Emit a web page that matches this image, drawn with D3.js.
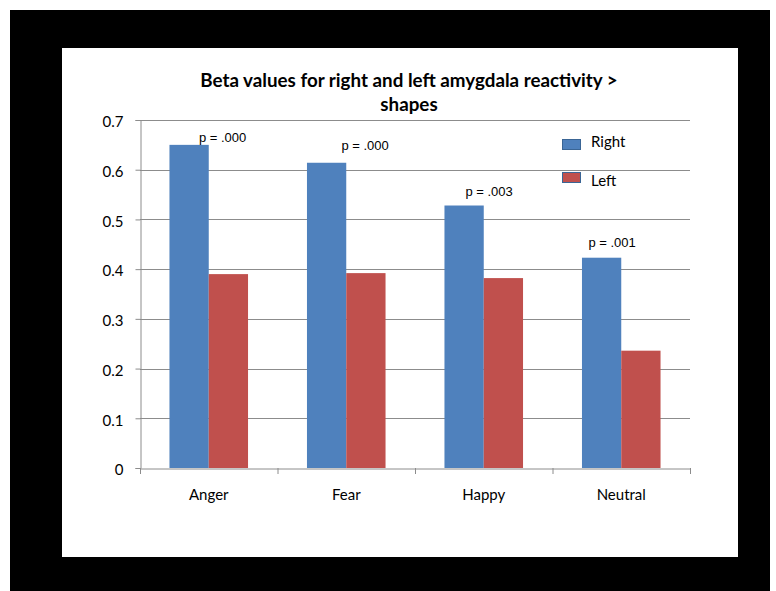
<!DOCTYPE html>
<html>
<head>
<meta charset="utf-8">
<script src="https://cdn.jsdelivr.net/npm/d3@7"></script>
<style>
  html, body { margin: 0; padding: 0; background: #fff; }
  svg { display: block; }
</style>
</head>
<body>
<script>
// Amygdala reactivity data
const categories = ["Anger", "Fear", "Happy", "Neutral"];
const seriesNames = ["Right", "Left"];
const rightValues = [0.65, 0.614, 0.528, 0.423];
const leftValues = [0.39, 0.392, 0.382, 0.236];
const pLabels = ["p = .000", "p = .000", "p = .003", "p = .001"];
const yTicks = [0, 0.1, 0.2, 0.3, 0.4, 0.5, 0.6, 0.7];
const colors = ["#4f81bd", "#c0504d"];

const W = 776, H = 591;
const svg = d3.select("body").append("svg").attr("width", W).attr("height", H);

// frame
svg.append("rect").attr("x", 10).attr("y", 10).attr("width", 760).attr("height", 581).attr("fill", "#000");
svg.append("rect").attr("x", 62).attr("y", 48).attr("width", 676).attr("height", 509).attr("fill", "#fff");

const font = "Lato, 'Open Sans', sans-serif";
const plot = { left: 140, right: 690, top: 120, bottom: 468 };

const x = d3.scaleBand().domain(categories).range([plot.left, plot.right]).paddingInner(0).paddingOuter(0);
const y = d3.scaleLinear().domain([0, 0.7]).range([plot.bottom, plot.top]);
// gap width 150% => each bar = band / 3.5
const barW = x.bandwidth() / 3.5;
const xs = d3.scaleBand().domain(seriesNames).range([0.75 * barW, 2.75 * barW]).padding(0);

// gridlines
svg.append("g").selectAll("line").data(yTicks.filter(d => d > 0)).join("line")
  .attr("x1", plot.left).attr("x2", plot.right)
  .attr("y1", d => Math.round(y(d)) + 0.5).attr("y2", d => Math.round(y(d)) + 0.5)
  .attr("stroke", "#8c8c8c").attr("stroke-width", 1);

// bars
const data = categories.map((c, i) => ({ cat: c, vals: [rightValues[i], leftValues[i]] }));
const groups = svg.append("g").selectAll("g").data(data).join("g")
  .attr("transform", d => `translate(${x(d.cat)},0)`);
groups.selectAll("rect").data(d => d.vals.map((v, j) => ({ v, s: seriesNames[j], j }))).join("rect")
  .attr("x", d => xs(d.s)).attr("width", xs.bandwidth())
  .attr("y", d => y(d.v)).attr("height", d => y(0) - y(d.v))
  .attr("fill", d => colors[d.j]);

// y axis
const yAxis = d3.axisLeft(y).tickValues(yTicks).tickFormat(d => d === 0 ? "0" : d3.format(".1f")(d)).tickSize(5).tickPadding(12);
const ya = svg.append("g").attr("transform", `translate(${plot.left + 0.5},0)`).call(yAxis);
ya.select(".domain").attr("stroke", "#8c8c8c");
ya.selectAll(".tick line").attr("stroke", "#8c8c8c");
ya.selectAll("text").attr("font-family", font).attr("font-size", 15).attr("fill", "#000").attr("dy", "0.45em");

// x axis
const xa = svg.append("g").attr("transform", `translate(0,${plot.bottom + 0.5})`)
  .call(d3.axisBottom(x).tickSize(0).tickPadding(21));
xa.select(".domain").attr("stroke", "#8c8c8c");
xa.selectAll("text").attr("font-family", font).attr("font-size", 15).attr("fill", "#000");
svg.append("g").selectAll("line").data(d3.range(categories.length + 1)).join("line")
  .attr("x1", i => plot.left + i * x.step() + 0.5).attr("x2", i => plot.left + i * x.step() + 0.5)
  .attr("y1", plot.bottom).attr("y2", plot.bottom + 6)
  .attr("stroke", "#8c8c8c");

// p-value labels above Right bars
const pOffsets = [{ dx: 33.5, dy: -3 }, { dx: 38.5, dy: -13 }, { dx: 25, dy: -10 }, { dx: 10.5, dy: -11 }];
svg.append("g").selectAll("text").data(data).join("text")
  .attr("x", (d, i) => x(d.cat) + xs("Right") + xs.bandwidth() / 2 + pOffsets[i].dx)
  .attr("y", (d, i) => y(d.vals[0]) + pOffsets[i].dy)
  .attr("text-anchor", "middle")
  .attr("font-family", "'Liberation Sans', Arial, sans-serif").attr("font-size", 13)
  .text((d, i) => pLabels[i]);

// title
const title = svg.append("text").attr("text-anchor", "middle").attr("font-family", font)
  .attr("font-weight", "bold").attr("font-size", 18.8).attr("fill", "#000");
title.append("tspan").attr("x", 409).attr("y", 87).text("Beta values for right and left amygdala reactivity >");
title.append("tspan").attr("x", 409).attr("y", 111).text("shapes");

// legend
const legendY = [139, 172];
const legendTextY = [147, 186];
const legend = svg.append("g").selectAll("g").data(seriesNames).join("g");
legend.append("rect").attr("x", 562.5).attr("y", (d, i) => legendY[i] + 0.5).attr("width", 18).attr("height", 10)
  .attr("fill", (d, i) => colors[i]).attr("stroke", "#3a6595").attr("stroke-width", 1);
legend.append("text").attr("x", 591).attr("y", (d, i) => legendTextY[i])
  .attr("font-family", font).attr("font-size", 15).text(d => d);
</script>
</body>
</html>
